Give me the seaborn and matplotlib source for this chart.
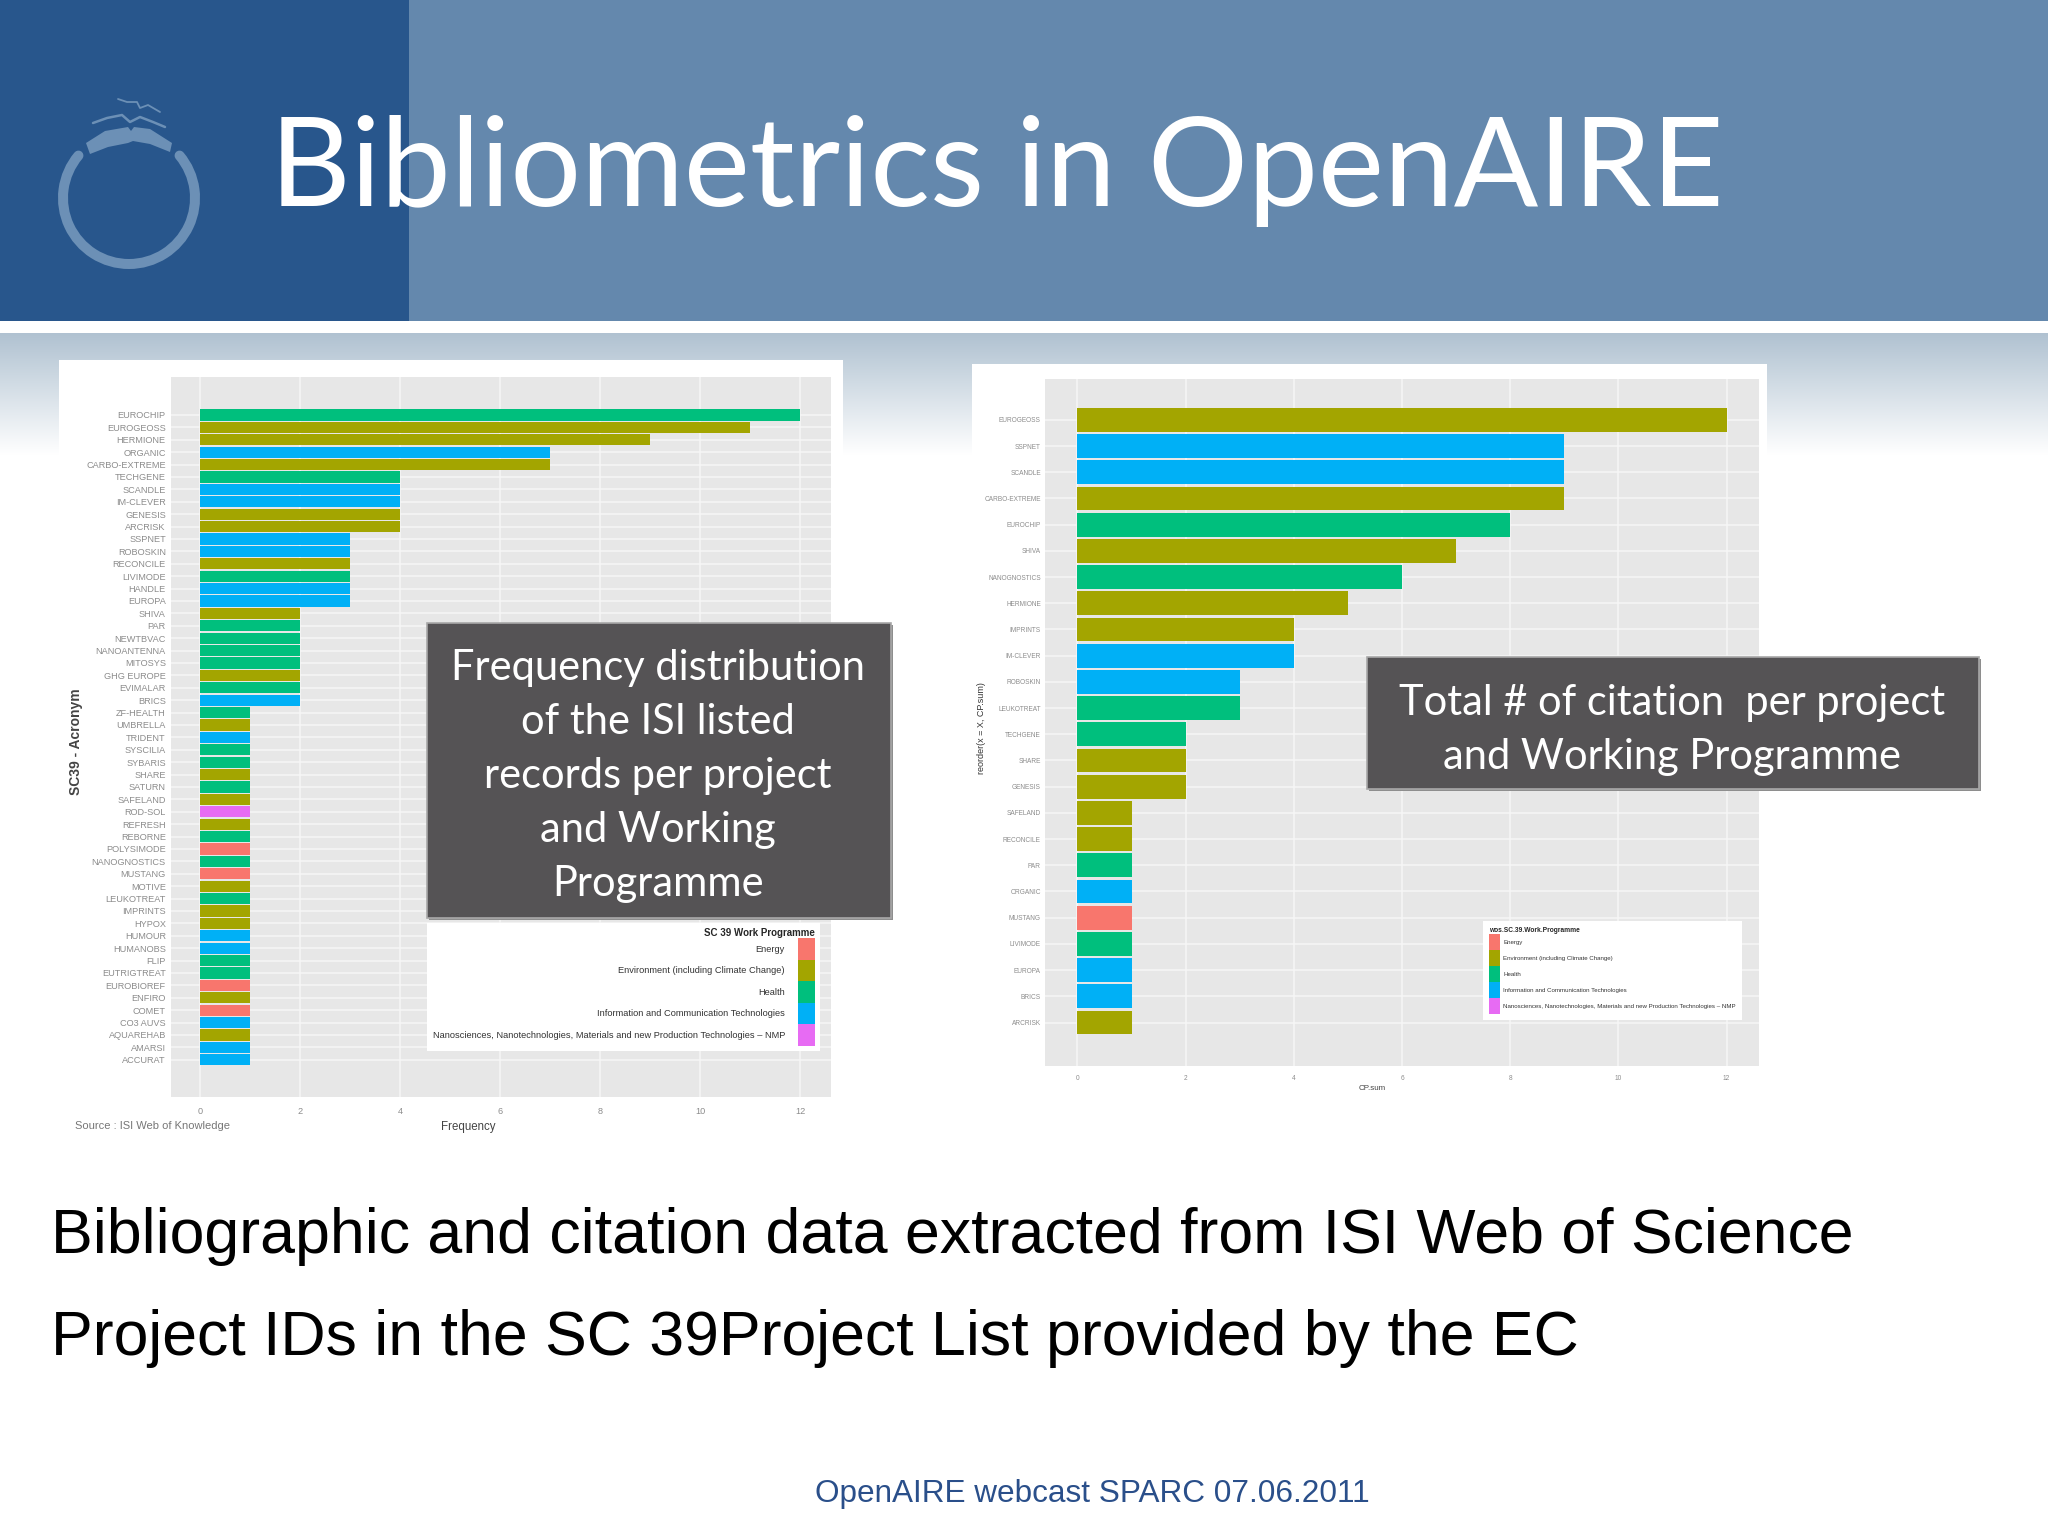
import numpy as np
import pandas as pd
import matplotlib
matplotlib.use("Agg")
import matplotlib.pyplot as plt
from matplotlib.patches import Arc, Patch, Polygon, Rectangle
import seaborn as sns

W, H = 2048, 1536

# work programmes, ggplot default colours
programmes = ["Energy", "Environment (including Climate Change)", "Health",
              "Information and Communication Technologies",
              "Nanosciences, Nanotechnologies, Materials and new Production Technologies \u2013 NMP"]
programme_colors = ["#F8766D", "#A3A500", "#00BF7D", "#00B0F6", "#E76BF3"]

# left chart: records per project
freq_names = ["EUROCHIP", "EUROGEOSS", "HERMIONE", "ORGANIC", "CARBO-EXTREME", "TECHGENE", "SCANDLE",
              "IM-CLEVER", "GENESIS", "ARCRISK", "SSPNET", "ROBOSKIN", "RECONCILE", "LIVIMODE", "HANDLE",
              "EUROPA", "SHIVA", "PAR", "NEWTBVAC", "NANOANTENNA", "MITOSYS", "GHG EUROPE", "EVIMALAR",
              "BRICS", "ZF-HEALTH", "UMBRELLA", "TRIDENT", "SYSCILIA", "SYBARIS", "SHARE", "SATURN",
              "SAFELAND", "ROD-SOL", "REFRESH", "REBORNE", "POLYSIMODE", "NANOGNOSTICS", "MUSTANG",
              "MOTIVE", "LEUKOTREAT", "IMPRINTS", "HYPOX", "HUMOUR", "HUMANOBS", "FLIP", "EUTRIGTREAT",
              "EUROBIOREF", "ENFIRO", "COMET", "CO3 AUVS", "AQUAREHAB", "AMARSI", "ACCURAT"]
freq_values = [12, 11, 9, 7, 7, 4, 4, 4, 4, 4, 3, 3, 3, 3, 3, 3, 2, 2, 2, 2, 2, 2, 2, 2,
               1, 1, 1, 1, 1, 1, 1, 1, 1, 1, 1, 1, 1, 1, 1, 1, 1, 1, 1, 1, 1, 1, 1, 1, 1, 1, 1, 1, 1]
# index into programmes
freq_prog = [2, 1, 1, 3, 1, 2, 3, 3, 1, 1, 3, 3, 1, 2, 3, 3, 1, 2, 2, 2, 2, 1, 2, 3,
             2, 1, 3, 2, 2, 1, 2, 1, 4, 1, 2, 0, 2, 0, 1, 2, 1, 1, 3, 3, 2, 2, 0, 1, 0, 3, 1, 3, 3]

# right chart: citations per project
cit_names = ["EUROGEOSS", "SSPNET", "SCANDLE", "CARBO-EXTREME", "EUROCHIP", "SHIVA", "NANOGNOSTICS",
             "HERMIONE", "IMPRINTS", "IM-CLEVER", "ROBOSKIN", "LEUKOTREAT", "TECHGENE", "SHARE", "GENESIS",
             "SAFELAND", "RECONCILE", "PAR", "ORGANIC", "MUSTANG", "LIVIMODE", "EUROPA", "BRICS", "ARCRISK"]
cit_values = [12, 9, 9, 9, 8, 7, 6, 5, 4, 4, 3, 3, 2, 2, 2, 1, 1, 1, 1, 1, 1, 1, 1, 1]
cit_prog = [1, 3, 3, 1, 2, 1, 2, 1, 1, 3, 3, 2, 2, 1, 1, 1, 1, 2, 3, 0, 2, 3, 3, 1]

x_ticks = [0, 2, 4, 6, 8, 10, 12]

ARIAL = "Liberation Sans"
CALIBRI = "Lato"

sns.set_theme(style="white")


def pixel_axes(x0, y0, x1, y1):
    return fig.add_axes([x0 / W, 1 - y1 / H, (x1 - x0) / W, (y1 - y0) / H])


def draw_bars(ax, names, values, prog, ylim, xlim, bar_width, tick_size, tick_len):
    df = pd.DataFrame({"name": names, "value": values,
                       "programme": [programmes[i] for i in prog]})
    sns.barplot(data=df, y="name", x="value", hue="programme", hue_order=programmes,
                palette=programme_colors, dodge=False, width=bar_width, saturation=1,
                legend=False, ax=ax, zorder=3, linewidth=0)
    ax.set_facecolor("#E7E7E7")
    ax.set_xlim(*xlim)
    ax.set_ylim(*ylim)
    ax.set_xticks(x_ticks)
    ax.set_xlabel("")
    ax.set_ylabel("")
    ax.grid(True, color="#F6F6F6", lw=1.1, zorder=1)
    ax.set_axisbelow(True)
    ax.tick_params(axis="both", length=tick_len, width=0.7, color="#9A9A9A", labelcolor="#8C8C8C", pad=1.5)
    ax.tick_params(axis="x", pad=5)
    for lab in ax.get_xticklabels() + ax.get_yticklabels():
        lab.set_fontfamily(ARIAL)
        lab.set_fontsize(tick_size)
    for s in ax.spines.values():
        s.set_visible(False)


def programme_handles():
    return [Patch(facecolor=c, edgecolor="none", label=p) for p, c in zip(programmes, programme_colors)]


fig = plt.figure(figsize=(W / 100, H / 100), dpi=100, facecolor="white")

# page background, in pixel coordinates
page = fig.add_axes([0, 0, 1, 1], zorder=0)
page.set_xlim(0, W)
page.set_ylim(H, 0)
page.axis("off")
page.add_patch(Rectangle((0, 0), W, 321, fc="#6488AD", ec="none"))
page.add_patch(Rectangle((0, 0), 409, 321, fc="#28568C", ec="none"))
fade = np.linspace(0, 1, 200)[:, None, None]
top_col = np.array([0.69, 0.76, 0.82])
grad = top_col + (1 - top_col) * fade
page.imshow(grad, extent=(0, W, 455, 333), aspect="auto", zorder=0.5)
page.set_xlim(0, W)
page.set_ylim(H, 0)

# logo
logo_col = "#6C90B6"
page.add_patch(Arc((129, 198), 132, 132, theta1=-40, theta2=220, color=logo_col, lw=7.2, capstyle="round", zorder=2))
page.add_patch(Polygon([(86, 143), (105, 131), (128, 127), (131, 131), (134, 127), (150, 129), (172, 143),
                        (170, 152), (150, 144), (133, 141), (128, 143), (108, 147), (90, 154)],
                       fc=logo_col, ec="none", zorder=2))
page.plot([93, 107, 122, 130, 140, 153, 165], [123, 118, 115, 122, 117, 122, 127], color=logo_col, lw=1.8, zorder=2)
page.plot([118, 127, 137, 140, 148, 160], [99, 102, 102, 108, 105, 112], color=logo_col, lw=1.3, zorder=2)

# white chart cards
page.add_patch(Rectangle((59, 360), 784, 780, fc="white", ec="none", zorder=1))
page.add_patch(Rectangle((972, 364), 795, 740, fc="white", ec="none", zorder=1))

page.text(270, 206, "Bibliometrics in OpenAIRE", color="white", fontsize=90, family=CALIBRI, va="baseline", zorder=3)
page.text(51, 1253, "Bibliographic and citation data extracted from ISI Web of Science",
          color="black", fontsize=45.1, family=ARIAL, va="baseline")
page.text(51, 1355, "Project IDs in the SC 39Project List provided by the EC",
          color="black", fontsize=45.1, family=ARIAL, va="baseline")
page.text(815, 1502, "OpenAIRE webcast SPARC 07.06.2011", color="#2A4F8A", fontsize=22.7, family=ARIAL, va="baseline")

# left chart
ax_left = pixel_axes(171, 377, 831, 1097)
draw_bars(ax_left, freq_names, freq_values, freq_prog, (55.0, -3.06), (-0.58, 12.62), 0.9, 6.6, 2.2)
ax_left.legend(handles=programme_handles(), title="SC 39 Work Programme", loc="upper right",
               bbox_to_anchor=(820, 923), bbox_transform=page.transData, borderaxespad=0, borderpad=0.55,
               markerfirst=False, alignment="right", labelspacing=0, handlelength=1.83, handleheight=3.2,
               handletextpad=1.4, frameon=True, facecolor="white", edgecolor="none", framealpha=1,
               fancybox=False, labelcolor="#333333", prop={"family": ARIAL, "size": 6.68},
               title_fontproperties={"family": ARIAL, "size": 7, "weight": "bold"})

# right chart
ax_right = pixel_axes(1045, 379, 1759, 1066)
draw_bars(ax_right, cit_names, cit_values, cit_prog, (24.66, -1.56), (-0.6, 12.6), 0.91, 4.7, 1.5)
ax_right.legend(handles=programme_handles(), title="wos.SC.39.Work.Programme", loc="upper left",
                bbox_to_anchor=(1483, 921), bbox_transform=page.transData, borderaxespad=0, borderpad=1.0,
                labelspacing=0, handlelength=1.82, handleheight=3.64, handletextpad=0.49,
                alignment="left", frameon=True, facecolor="white", edgecolor="none", framealpha=1,
                fancybox=False, labelcolor="#333333", prop={"family": ARIAL, "size": 4.4},
                title_fontproperties={"family": ARIAL, "size": 4.8, "weight": "bold"})

# overlay: axis titles and the callout boxes
top = fig.add_axes([0, 0, 1, 1], zorder=10)
top.set_xlim(0, W)
top.set_ylim(H, 0)
top.axis("off")
top.patch.set_alpha(0)

top.text(76, 742, "SC39 - Acronym", rotation=90, ha="center", va="center", fontsize=10, weight="bold",
         family=ARIAL, color="#444444")
top.text(75, 1126, "Source : ISI Web of Knowledge", ha="left", va="center", fontsize=8, family=ARIAL, color="#777777")
top.text(468, 1127, "Frequency", ha="center", va="center", fontsize=8.3, family=ARIAL, color="#444444")
top.text(982, 728, "reorder(x = X, CP.sum)", rotation=90, ha="center", va="center", fontsize=6.5, family=ARIAL,
         color="#333333")
top.text(1372, 1089, "CP.sum", ha="center", va="center", fontsize=5.8, family=ARIAL, color="#444444")

for x0, y0, x1, y1 in [(427, 623, 891, 918), (1367, 657, 1979, 789)]:
    top.add_patch(Rectangle((x0 + 2, y0 + 2), x1 - x0, y1 - y0, fc="#8E8E8E", ec="none"))
    top.add_patch(Rectangle((x0, y0), x1 - x0, y1 - y0, fc="#555355", ec="#A8A8A8", lw=1.2))

top.text(658, 776, "Frequency distribution\nof the ISI listed\nrecords per project\nand Working\nProgramme",
         color="white", fontsize=30, family=CALIBRI, ha="center", va="center", linespacing=1.52)
top.text(1672, 730, "Total # of citation  per project\nand Working Programme",
         color="white", fontsize=30, family=CALIBRI, ha="center", va="center", linespacing=1.52)

fig.savefig("out.png", dpi=100)
